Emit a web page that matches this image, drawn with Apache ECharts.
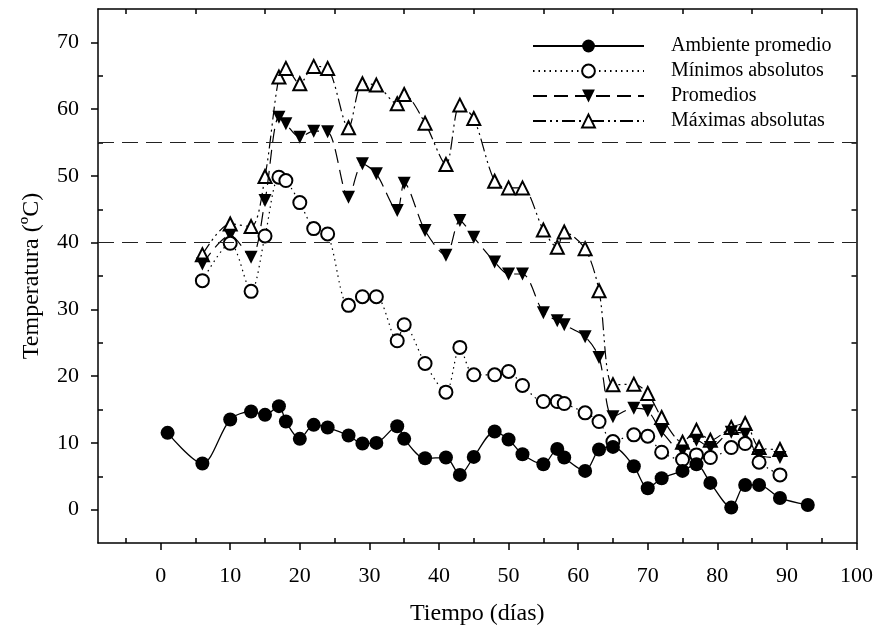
<!DOCTYPE html>
<html>
<head>
<meta charset="utf-8">
<title>Temperatura</title>
<script src="https://cdn.jsdelivr.net/npm/echarts@6/dist/echarts.min.js"></script>
<style>
  html, body { margin: 0; padding: 0; background: #fff; }
  #grafico { width: 876px; height: 631px; }
</style>
</head>
<body>
<div id="grafico"></div>
<script>
// dias de muestreo (comunes a las tres series de la pila)
var dias = [6, 10, 13, 15, 17, 18, 20, 22, 24, 27, 29, 31, 34, 35, 38, 41, 43, 45, 48, 50,
            52, 55, 57, 58, 61, 63, 65, 68, 70, 72, 75, 77, 79, 82, 84, 86, 89];
// el ambiente tiene un dia antes y uno despues
var diasAmbiente = [1].concat(dias).concat([93]);

var ambiente = [11.5, 6.9, 13.5, 14.7, 14.2, 15.5, 13.2, 10.6, 12.7, 12.3, 11.1, 9.9, 10.0, 12.5, 10.6,
                7.7, 7.8, 5.2, 7.9, 11.7, 10.5, 8.3, 6.8, 9.1, 7.8, 5.8, 9.0, 9.4, 6.5, 3.2, 4.7,
                5.8, 6.8, 4.0, 0.3, 3.7, 3.7, 1.75, 0.7];
var minimos = [34.3, 39.9, 32.7, 41.0, 49.8, 49.3, 46.0, 42.1, 41.3, 30.6, 31.9, 31.9, 25.3, 27.7,
               21.9, 17.6, 24.3, 20.2, 20.2, 20.7, 18.6, 16.2, 16.2, 15.9, 14.5, 13.2, 10.2, 11.2,
               11.0, 8.6, 7.5, 8.2, 7.8, 9.3, 9.9, 7.1, 5.2];
var promedios = [36.8, 41.1, 37.8, 46.3, 58.8, 57.8, 55.8, 56.7, 56.6, 46.8, 51.8, 50.3, 44.8, 48.9,
                 41.8, 38.1, 43.3, 40.8, 37.1, 35.3, 35.3, 29.5, 28.3, 27.7, 25.9, 22.8, 13.9, 15.2,
                 14.8, 11.7, 8.8, 10.4, 9.3, 11.6, 11.3, 8.1, 7.8];
var maximas = [38.2, 42.8, 42.4, 49.9, 64.8, 66.1, 63.8, 66.4, 66.1, 57.2, 63.8, 63.6, 60.8, 62.2,
               57.9, 51.7, 60.6, 58.6, 49.2, 48.2, 48.2, 41.9, 39.3, 41.6, 39.1, 32.8, 18.7, 18.8,
               17.4, 13.8, 10.1, 11.9, 10.4, 12.3, 12.9, 9.3, 9.0];

// lineas de referencia
var umbrales = [40, 55];

// marcas de los ejes
var ticksX = [0, 10, 20, 30, 40, 50, 60, 70, 80, 90, 100];
var menoresX = [-5, 5, 15, 25, 35, 45, 55, 65, 75, 85, 95];
var ticksY = [0, 10, 20, 30, 40, 50, 60, 70];
var menoresY = [5, 15, 25, 35, 45, 55, 65];

var nombres = ['Ambiente promedio', 'Mínimos absolutos', 'Promedios', 'Máximas absolutas'];

function pares(xs, ys) {
    var r = [];
    for (var i = 0; i < ys.length; i++) {
        r.push([xs[i], ys[i]]);
    }
    return r;
}

var fuente = 'Liberation Serif';
var negro = '#000';

function showGrafico() {
    var myChart = echarts.init(document.getElementById('grafico'));

    var ejeLinea = { show: true, onZero: false, lineStyle: { color: negro, width: 1.5 } };
    var sinLinea = { show: false, onZero: false };

    var option = {
        animation: false,
        backgroundColor: '#fff',
        textStyle: { fontFamily: fuente, color: negro },
        grid: { left: 98, right: 16, top: 9, bottom: 88 },
        legend: {
            orient: 'vertical',
            left: 527,
            top: 31,
            itemWidth: 111,
            itemHeight: 16,
            itemGap: 5,
            textStyle: { fontFamily: fuente, fontSize: 20, color: negro, lineHeight: 20, padding: [0, 0, 0, 22] },
            data: nombres
        },
        xAxis: [
            {
                type: 'value', min: -9, max: 100, position: 'bottom',
                axisLine: ejeLinea,
                axisTick: { show: true, inside: false, length: 7, customValues: ticksX, lineStyle: { color: negro, width: 1.5 } },
                axisLabel: { customValues: ticksX, fontFamily: fuente, fontSize: 22, color: negro, margin: 22 },
                splitLine: { show: false },
                name: 'Tiempo (días)', nameLocation: 'middle', nameGap: 59,
                nameTextStyle: { fontFamily: fuente, fontSize: 24, color: negro }
            },
            {
                // menores hacia dentro
                type: 'value', min: -9, max: 100, position: 'bottom',
                axisLine: sinLinea,
                axisTick: { show: true, inside: true, length: 5, customValues: menoresX, lineStyle: { color: negro, width: 1.5 } },
                axisLabel: { show: false },
                splitLine: { show: false }
            },
            {
                type: 'value', min: -9, max: 100, position: 'top',
                axisLine: ejeLinea,
                axisTick: { show: true, inside: true, length: 5, customValues: menoresX, lineStyle: { color: negro, width: 1.5 } },
                axisLabel: { show: false },
                splitLine: { show: false }
            }
        ],
        yAxis: [
            {
                type: 'value', min: -5, max: 75, position: 'left',
                axisLine: ejeLinea,
                axisTick: { show: true, inside: false, length: 7, customValues: ticksY, lineStyle: { color: negro, width: 1.5 } },
                axisLabel: { customValues: ticksY, fontFamily: fuente, fontSize: 22, color: negro, margin: 19 },
                splitLine: { show: false },
                name: 'Temperatura (ºC)', nameLocation: 'middle', nameGap: 54,
                nameTextStyle: { fontFamily: fuente, fontSize: 24, color: negro }
            },
            {
                type: 'value', min: -5, max: 75, position: 'left',
                axisLine: sinLinea,
                axisTick: { show: true, inside: true, length: 5, customValues: menoresY, lineStyle: { color: negro, width: 1.5 } },
                axisLabel: { show: false },
                splitLine: { show: false }
            },
            {
                type: 'value', min: -5, max: 75, position: 'right',
                axisLine: ejeLinea,
                axisTick: { show: true, inside: true, length: 5, customValues: menoresY, lineStyle: { color: negro, width: 1.5 } },
                axisLabel: { show: false },
                splitLine: { show: false }
            }
        ],
        series: [
            {
                name: nombres[3],
                type: 'line',
                data: pares(dias, maximas),
                smooth: 0.3,
                symbol: 'emptyTriangle',
                symbolSize: 13,
                itemStyle: { color: negro, borderWidth: 1.3 },
                lineStyle: { color: negro, width: 1.2, type: [13, 4, 2, 4, 2, 4] },
                z: 2
            },
            {
                name: nombres[2],
                type: 'line',
                data: pares(dias, promedios),
                smooth: 0.3,
                symbol: 'triangle',
                symbolRotate: 180,
                symbolSize: 13,
                itemStyle: { color: negro },
                lineStyle: { color: negro, width: 1.2, type: [14, 7] },
                z: 3
            },
            {
                name: nombres[1],
                type: 'line',
                data: pares(dias, minimos),
                smooth: 0.3,
                symbol: 'emptyCircle',
                symbolSize: 13,
                itemStyle: { color: negro, borderWidth: 1.3 },
                lineStyle: { color: negro, width: 1.2, type: [1.5, 4] },
                z: 4
            },
            {
                name: nombres[0],
                type: 'line',
                data: pares(diasAmbiente, ambiente),
                smooth: 0.3,
                symbol: 'circle',
                symbolSize: 14,
                itemStyle: { color: negro },
                lineStyle: { color: negro, width: 1.3 },
                z: 5,
                markLine: {
                    silent: true,
                    symbol: 'none',
                    label: { show: false },
                    lineStyle: { color: '#222', width: 1.2, type: [16, 8] },
                    data: umbrales.map(function (v) { return { yAxis: v }; })
                }
            }
        ]
    };

    myChart.setOption(option);
}

showGrafico();
</script>
</body>
</html>
